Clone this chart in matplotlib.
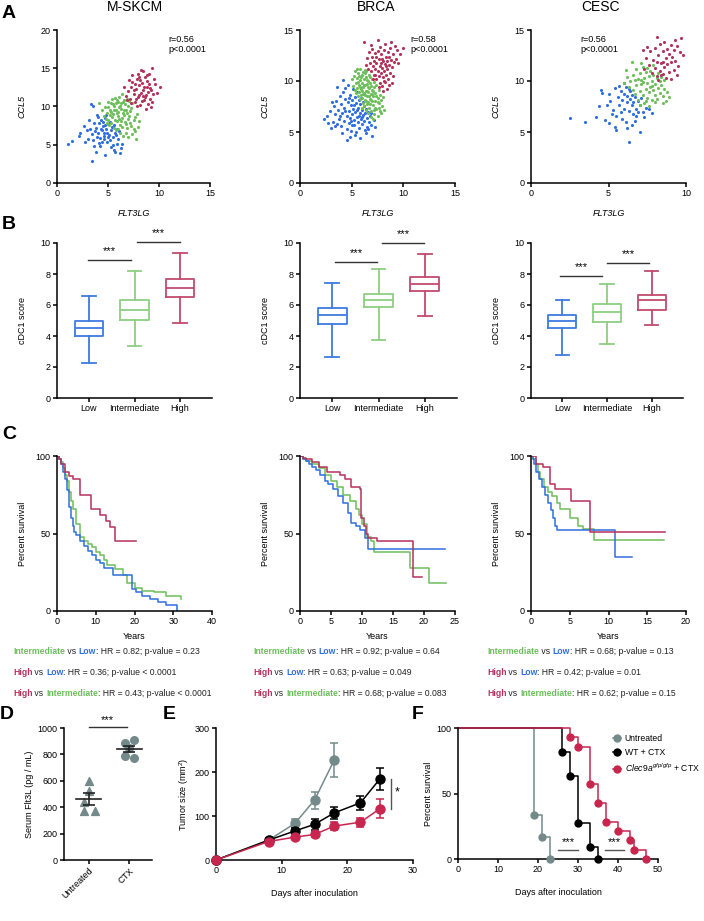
import numpy as np
import matplotlib
matplotlib.use('Agg')
import matplotlib.pyplot as plt
from matplotlib.lines import Line2D

plt.rcParams['font.family'] = ['Liberation Sans', 'DejaVu Sans']
plt.rcParams['mathtext.fontset'] = 'custom'
plt.rcParams['mathtext.rm'] = 'Liberation Sans'
plt.rcParams['mathtext.it'] = 'Liberation Sans:italic'
plt.rcParams['font.size'] = 6.5

BLUE, GREEN, RED = '#2f6fdf', '#6cbf5a', '#b5325c'
BBLUE, BGREEN, BRED = '#3d7be0', '#8ccf80', '#c24b6e'
GRAY, CRED = '#748a8a', '#c8264f'

cohorts = ['M-SKCM', 'BRCA', 'CESC']
groups = ['Low', 'Intermediate', 'High']

# ---- A: FLT3LG vs CCL5 (x, y)
skcm_low = [(1.1,5.1),(1.5,5.5),(2.3,6.6),(2.2,6.1),(2.7,5.4),(3.0,5.8),(3.1,8.3),(3.4,2.9),(3.3,10.3),(3.5,10.1),
            (3.8,4.1),(3.9,8.9),(4.2,4.8),(4.7,3.6),(5.6,4.3),(5.9,5.1),(6.4,5.1),(5.7,6.6),(3.6,7.9),(3.8,7.2),
            (4.0,6.5),(4.1,7.8),(4.3,8.2),(4.4,6.9),(4.5,7.4),(4.6,6.2),(4.7,8.5),(4.8,7.0),(4.9,6.6),(5.0,7.7),
            (5.1,6.3),(5.2,8.0),(5.3,6.9),(5.4,7.3),(5.5,6.0),(5.6,7.6),(3.7,6.8),(3.9,6.0),(4.2,5.9),(4.4,5.4),
            (4.6,5.7),(4.9,5.3),(5.2,5.6),(5.8,6.3),(6.0,5.8),(3.4,6.4),(3.2,7.0),(3.5,5.6),(4.0,8.6),(4.8,8.9),
            (4.3,7.1),(4.7,7.6),(5.0,6.0),(5.5,5.0),(6.1,6.8),(6.3,4.6),(5.9,7.0),(4.1,5.2),(3.6,4.9),(2.9,6.9),
            (2.6,7.4),(5.3,4.7),(5.7,4.0),(6.2,3.9),(4.5,8.0),(4.6,6.6)]
skcm_mid = [(4.1,10.5),(7.7,5.8),(4.9,9.2),(5.0,8.2),(5.2,9.6),(5.3,10.4),(5.4,8.6),(5.5,9.0),(5.6,10.0),(5.7,8.3),
            (5.8,9.5),(5.9,10.8),(6.0,8.8),(6.1,9.9),(6.2,7.6),(6.3,10.4),(6.4,8.5),(6.5,9.2),(6.6,10.9),(6.7,8.0),
            (6.8,9.6),(6.9,7.2),(7.0,10.1),(7.1,8.7),(7.2,9.4),(7.3,7.5),(7.4,10.5),(7.5,8.3),(7.6,6.8),(7.8,9.0),
            (5.1,7.6),(5.3,7.9),(5.6,7.2),(5.8,6.9),(6.0,7.0),(6.2,6.5),(6.5,6.2),(6.8,6.6),(7.0,6.0),(7.2,7.9),
            (5.7,11.1),(6.1,11.3),(6.4,11.6),(6.9,11.0),(7.1,10.7),(5.4,11.0),(5.0,10.6),(4.7,9.9),(4.6,8.8),(4.8,8.4),
            (5.9,8.1),(6.3,9.7),(6.6,8.9),(6.7,10.3),(6.2,10.1),(5.5,10.3),(5.2,8.9),(6.0,9.3),(6.9,9.1),(7.3,9.8),
            (7.6,8.6),(7.9,7.3),(8.0,8.1),(6.4,7.3),(5.8,10.4),(5.3,9.3),(6.5,10.6),(7.0,8.4),(6.1,8.4),(5.6,9.6),
            (4.9,7.9),(4.4,9.5),(6.8,7.7),(7.4,6.4),(7.5,7.1),(5.9,9.1),(6.3,8.1),(6.6,9.5),(5.0,9.9),(6.0,10.6)]
skcm_high = [(9.35,15.0),(10.1,12.6),(8.4,14.6),(6.8,11.4),(7.0,12.0),(7.2,11.0),(7.3,12.6),(7.4,13.2),(7.5,11.6),
             (7.6,10.6),(7.7,12.3),(7.8,13.6),(7.9,11.2),(8.0,12.8),(8.1,10.2),(8.2,11.8),(8.3,13.1),(8.4,12.2),
             (8.5,10.9),(8.6,13.8),(8.7,11.5),(8.8,12.5),(8.9,10.3),(9.0,13.0),(9.1,11.0),(9.2,12.1),(9.3,10.6),
             (9.4,11.6),(9.6,12.9),(9.8,11.8),(7.1,13.4),(7.4,14.1),(7.9,14.2),(8.2,14.8),(8.8,14.1),(9.0,14.3),
             (7.6,12.9),(8.0,11.5),(8.3,10.7),(8.6,11.2),(8.7,9.7),(9.2,9.9),(8.9,11.9),(7.3,10.4),(7.8,10.0),
             (8.5,12.6),(8.1,13.4),(7.5,12.2),(6.6,12.5),(6.9,10.8),(9.5,13.6),(8.4,11.4),(7.7,11.0),(8.0,13.9),
             (8.8,13.3),(9.1,12.4)]
brca_low = [(2.3,6.3),(3.0,5.4),(3.6,9.4),(4.5,4.2),(7.0,4.6),(6.5,5.5),(5.8,4.4),(2.6,6.6),(2.9,7.1),(3.2,6.0),
            (3.3,7.5),(3.4,6.8),(3.5,8.0),(3.7,7.2),(3.8,6.3),(3.9,8.5),(4.0,5.6),(4.0,7.7),(4.1,6.9),(4.2,8.9),
            (4.3,6.1),(4.3,7.4),(4.4,8.2),(4.5,5.3),(4.5,6.6),(4.6,7.9),(4.6,9.6),(4.7,5.9),(4.7,7.1),(4.8,8.6),
            (4.8,6.4),(4.9,7.6),(4.9,5.1),(5.0,8.1),(5.0,6.8),(5.1,9.2),(5.1,7.3),(5.2,5.7),(5.2,6.2),(5.3,8.4),
            (5.3,7.0),(5.4,7.8),(5.4,5.0),(5.5,6.5),(5.5,8.9),(5.6,7.4),(5.6,6.0),(5.7,8.1),(5.7,5.4),(5.8,6.9),
            (5.8,7.7),(5.9,6.3),(5.9,8.3),(6.0,7.2),(6.0,5.8),(6.1,6.7),(6.1,7.9),(6.2,6.1),(6.2,7.5),(6.3,6.9),
            (6.3,5.2),(6.4,7.3),(6.5,6.4),(6.6,7.0),(6.7,6.0),(6.8,6.6),(6.9,5.7),(7.2,6.2),(4.2,10.1),(4.4,9.3),
            (3.1,7.9),(3.6,5.8),(4.1,4.9),(4.8,4.5),(5.3,4.7),(6.4,4.9),(5.0,5.7),(4.4,7.1),(3.9,6.6),(5.7,6.6),
            (5.2,7.6),(4.7,8.3),(5.5,7.2),(6.0,6.5),(4.9,6.1),(6.6,5.3),(3.4,5.6),(2.7,5.9),(6.9,6.9),(7.3,5.5)]
brca_mid = [(5.2,10.5),(5.3,11.0),(5.4,9.8),(5.5,10.3),(5.5,9.3),(5.6,10.8),(5.7,9.6),(5.7,8.9),(5.8,10.1),(5.8,11.2),
            (5.9,9.2),(5.9,8.6),(6.0,10.6),(6.0,9.8),(6.0,8.3),(6.1,9.4),(6.1,10.9),(6.2,8.8),(6.2,10.2),(6.3,9.6),
            (6.3,8.1),(6.3,11.1),(6.4,9.0),(6.4,10.4),(6.5,8.5),(6.5,9.7),(6.5,7.7),(6.6,10.0),(6.6,8.9),(6.7,9.3),
            (6.7,7.4),(6.7,10.6),(6.8,8.2),(6.8,9.8),(6.9,8.7),(6.9,7.1),(7.0,9.1),(7.0,8.0),(7.0,10.2),(7.1,7.6),
            (7.1,8.5),(7.2,9.4),(7.2,6.8),(7.3,8.0),(7.3,8.8),(7.4,7.3),(7.4,9.6),(7.5,8.3),(7.5,6.6),(7.6,7.8),
            (7.7,8.6),(7.7,7.1),(7.8,8.1),(7.9,7.5),(8.0,8.4),(8.1,7.2),(7.6,9.1),(6.4,7.2),(6.1,7.8),(5.6,8.5),
            (5.4,8.8),(5.1,9.5),(5.3,9.1),(5.0,10.2),(5.8,8.2),(6.2,7.5),(6.9,6.5),(7.1,6.3),(6.6,6.9),(7.8,6.9),
            (5.5,11.2),(6.8,10.4),(6.4,11.0),(7.2,9.9),(7.3,7.4),(6.0,9.0),(6.3,8.6),(6.6,9.4),(6.9,9.5),(5.9,10.4),
            (6.2,9.6),(6.5,10.1),(6.7,8.5),(7.0,8.7),(5.7,10.5),(6.1,8.7),(6.4,8.0),(6.8,7.7),(7.4,8.5),(7.6,7.4),
            (5.6,9.9),(6.0,7.4),(6.5,9.0),(7.1,9.0),(6.3,10.8),(5.8,9.4),(6.6,7.9),(7.2,7.2),(6.9,8.1),(7.5,7.9)]
brca_high = [(6.2,13.8),(7.5,14.0),(10.0,13.2),(6.4,11.6),(6.5,12.3),(6.6,11.2),(6.7,12.8),(6.8,11.8),(6.9,11.0),
             (7.0,12.4),(7.0,13.1),(7.1,11.5),(7.2,10.6),(7.2,12.0),(7.3,11.2),(7.3,12.7),(7.4,10.2),(7.4,11.8),
             (7.5,12.9),(7.5,11.0),(7.6,10.5),(7.6,12.2),(7.7,11.5),(7.7,9.8),(7.8,12.6),(7.8,10.8),(7.9,11.3),
             (7.9,9.5),(8.0,12.0),(8.0,10.4),(8.1,11.0),(8.1,13.0),(8.2,9.9),(8.2,11.7),(8.3,12.4),(8.3,10.6),
             (8.4,11.2),(8.4,9.2),(8.5,12.8),(8.5,10.2),(8.6,11.6),(8.7,10.8),(8.7,13.2),(8.8,12.1),(8.9,11.4),
             (9.0,10.5),(9.0,12.6),(9.1,11.9),(9.2,13.4),(9.3,12.2),(9.5,11.8),(9.4,13.0),(8.6,9.6),(8.2,13.6),
             (7.7,13.3),(6.9,13.5),(7.1,10.2),(7.6,9.4),(8.0,9.0),(8.9,9.8),(9.7,12.6),(8.8,13.8),(8.4,12.0),
             (7.9,12.2),(7.4,12.4),(8.1,10.0),(8.6,12.4),(7.3,10.6),(8.3,11.5),(7.8,11.8)]
cesc_low = [(2.5,6.4),(3.5,6.0),(4.2,6.5),(4.8,6.2),(4.5,9.1),(5.0,8.7),(4.4,7.5),(5.1,8.0),(5.4,9.3),(5.4,5.5),
            (5.5,5.2),(6.3,4.0),(7.0,5.0),(6.7,6.1),(7.3,6.5),(7.8,6.9),(7.6,7.3),(5.6,8.4),(5.7,7.6),(5.8,9.0),
            (5.9,8.1),(6.0,7.3),(6.0,8.7),(6.1,9.4),(6.2,7.9),(6.2,8.5),(6.3,7.1),(6.4,8.2),(6.4,9.0),(6.5,7.6),
            (6.5,8.6),(6.6,7.9),(6.6,6.8),(6.7,8.4),(6.8,7.3),(6.9,8.0),(7.0,7.6),(7.1,8.3),(7.2,7.0),(5.3,7.2),
            (5.5,6.6),(5.9,6.3),(6.1,6.0),(6.8,6.6),(5.2,6.8),(5.7,9.5),(6.0,9.8),(6.3,9.2),(6.9,7.0),(7.4,7.4),
            (5.8,7.0),(6.5,5.7),(4.9,7.6),(4.6,8.8),(6.2,5.4),(5.0,5.9)]
cesc_mid = [(6.1,11.1),(6.5,11.9),(8.5,7.8),(6.2,10.4),(6.4,10.0),(6.6,10.6),(6.8,9.6),(6.8,11.2),(6.9,10.2),(7.0,9.0),
            (7.0,10.8),(7.1,9.7),(7.2,11.4),(7.2,8.6),(7.3,10.3),(7.4,9.2),(7.4,10.9),(7.5,8.3),(7.5,9.8),(7.6,10.5),
            (7.6,8.9),(7.7,9.4),(7.7,11.0),(7.8,8.1),(7.8,10.0),(7.9,9.1),(7.9,10.6),(8.0,8.6),(8.0,9.7),(8.1,10.3),
            (8.1,8.2),(8.2,9.3),(8.3,10.0),(8.3,8.8),(8.4,9.6),(8.5,8.5),(8.6,9.2),(8.7,8.0),(8.8,8.9),(6.7,8.7),
            (6.9,8.1),(7.3,7.8),(7.1,11.8),(6.3,9.4),(6.6,9.1),(7.5,11.3),(8.2,10.8),(7.0,7.6),(7.6,7.5),(8.0,7.9),
            (8.9,8.4),(7.2,9.9),(7.8,9.5),(7.4,8.0),(6.7,10.1),(8.4,10.4),(7.9,11.6),(6.0,9.8),(7.1,10.1),(8.6,10.1)]
cesc_high = [(8.1,14.3),(9.7,14.2),(9.8,12.5),(9.3,14.0),(7.3,11.2),(7.4,12.3),(7.6,11.6),(7.7,12.9),(7.8,10.8),
             (7.9,12.1),(8.0,11.3),(8.0,13.2),(8.1,10.5),(8.2,12.5),(8.3,11.0),(8.3,13.6),(8.4,11.8),(8.5,10.7),
             (8.5,12.9),(8.6,11.4),(8.7,12.3),(8.7,10.3),(8.8,13.1),(8.8,11.7),(8.9,12.6),(8.9,10.9),(9.0,11.9),
             (9.0,13.5),(9.1,12.4),(9.2,11.1),(9.2,13.0),(9.3,12.0),(9.4,10.6),(9.5,11.5),(9.6,12.8),(8.2,10.1),
             (8.6,13.8),(7.5,13.3),(8.4,10.6),(9.0,10.2),(8.1,11.9),(7.2,13.0),(8.5,11.9),(9.4,13.4)]
scatter_sets = [(skcm_low, skcm_mid, skcm_high), (brca_low, brca_mid, brca_high), (cesc_low, cesc_mid, cesc_high)]
corr_text = ['r=0.56\np<0.0001', 'r=0.58\np<0.0001', 'r=0.56\np<0.0001']

# ---- B: cDC1 score box plots (whislo, q1, median, q3, whishi)
box_skcm = [(2.28, 4.0, 4.52, 4.99, 6.56), (3.33, 5.05, 5.7, 6.3, 8.2), (4.86, 6.54, 7.1, 7.7, 9.33)]
box_brca = [(2.62, 4.8, 5.37, 5.78, 7.44), (3.72, 5.87, 6.32, 6.7, 8.3), (5.29, 6.92, 7.35, 7.78, 9.27)]
box_cesc = [(2.75, 4.52, 4.95, 5.33, 6.3), (3.48, 4.92, 5.53, 6.04, 7.33), (4.69, 5.68, 6.3, 6.67, 8.19)]
box_sets = [box_skcm, box_brca, box_cesc]

# ---- C: Kaplan-Meier curves (years, percent survival)
km_skcm = {
    'Low': ([0,0.5,1.0,1.5,2.0,2.5,3.0,3.5,4.0,4.5,5.0,6.0,7.0,8.0,9.0,10.0,11.0,12.0,14.5,19.3,20.5,22,24,26,28,30,31],
            [100,98,95,90,85,78,67,60,55,51,49,45,42,39,36,33,31,28,23,14,12,10,8,6,4,4,0]),
    'Intermediate': ([0,0.5,1.0,1.5,2.0,2.5,3.0,3.5,4.0,5.0,6.0,7.0,8.0,9.0,10.0,11.0,12.0,13.0,15.0,17.0,18.0,20.0,22.0,25.0,28.0,32.0],
                     [100,98,96,92,88,84,77,71,66,56,48,45,43,41,38,36,33,30,27,23,18,15,13,12,10,8]),
    'High': ([0,0.5,1.0,2.0,3.0,4.0,5.9,8.8,11.1,12.6,13.7,14.9,20.5],
             [100,98,95,90,87,85,75,66,62,58,54,45,45]),
}
km_brca = {
    'Low': ([0,0.5,1,1.5,2,2.5,3.2,4,4.5,5.4,6.2,7,7.8,8.3,9.0,9.7,10.5,11.0,23.4],
            [100,98,97,95,93,91,88,84,82,79,74,70,63,57,55,52,47,40,40]),
    'Intermediate': ([0,0.5,1,2,3,4,5,6,7,8,9,9.5,10,10.8,11.5,12,17.8,20.8,23.5],
                     [100,98,97,95,92,88,84,80,75,71,66,62,56,48,45,38,28,18,18]),
    'High': ([0,0.5,1,2,3,4.3,6.4,7.2,8.3,9.7,9.9,10.3,10.6,11.0,12.4,18.3,19.6],
             [100,99,98,96,93,90,88,85,80,79,60,55,50,47,45,22,22]),
}
km_cesc = {
    'Low': ([0,0.2,0.4,0.7,1.0,1.4,1.8,2.25,2.6,2.8,3.1,3.3,10.9,13.0],
            [100,98,95,90,85,80,75,70,65,60,55,52,35,35]),
    'Intermediate': ([0,0.3,0.6,0.9,1.2,1.7,2.2,2.7,3.3,3.8,5.0,6.0,6.7,8.1,17.2],
                     [100,98,95,90,85,80,77,74,70,66,60,55,53,46,46]),
    'High': ([0,0.7,1.55,2.45,3.1,5.2,7.6,17.3],
             [100,95,93,82,79,71,51,51]),
}
km_sets = [km_skcm, km_brca, km_cesc]
km_xmax = [40, 25, 20]
km_xstep = [10, 5, 5]

hr_lines = [
    [('0.82', '= 0.23'), ('0.36', '< 0.0001'), ('0.43', '< 0.0001')],
    [('0.92', '= 0.64'), ('0.63', '= 0.049'), ('0.68', '= 0.083')],
    [('0.68', '= 0.13'), ('0.42', '= 0.01'), ('0.62', '= 0.15')],
]

# ---- D: serum Flt3L
flt3l_untreated = [600, 525, 440, 370, 375]
flt3l_ctx = [885, 910, 845, 790, 775]

# ---- E: tumor growth (day, mean, sem)
days_untr = [0, 8, 12, 15, 18]
size_untr = [0, 45, 83, 136, 227]
sem_untr = [0, 4, 10, 19, 38]
days_ctx = [0, 8, 12, 15, 18, 22, 25]
size_wt = [0, 45, 66, 81, 107, 130, 185]
sem_wt = [0, 4, 7, 12, 14, 16, 25]
size_clec = [0, 42, 52, 58, 77, 86, 117]
sem_clec = [0, 3, 5, 6, 9, 10, 21]

# ---- F: survival (day, percent)
surv_untr = ([0, 19, 21, 23], [100, 33.3, 16.7, 0])
surv_wt = ([0, 26, 28, 30, 33, 35], [100, 81.8, 63.6, 27.3, 9.1, 0])
surv_clec = ([0, 28, 30, 33, 35, 37, 40, 43, 44, 47], [100, 92.9, 85.7, 57.1, 42.9, 28.6, 21.4, 14.3, 7.1, 0])

W, H = 704, 921
fig = plt.figure(figsize=(W / 100, H / 100), dpi=100)


def px_axes(l, t, r, b):
    return fig.add_axes([l / W, 1 - b / H, (r - l) / W, (b - t) / H])


def style(ax):
    ax.spines['top'].set_visible(False)
    ax.spines['right'].set_visible(False)
    for s in ['left', 'bottom']:
        ax.spines[s].set_linewidth(1.1)
    ax.tick_params(direction='out', length=3, width=1.1, labelsize=6.5, pad=1.5)


def letter(x, y, s):
    fig.text(x / W, 1 - y / H, s, fontsize=14, fontweight='bold', va='top', ha='left')


lefts = [57, 300, 531]
rights = [210, 455, 686]
title_x = [135, 376, 600]

# A
for i in range(3):
    ax = px_axes(lefts[i], 30, rights[i], 183)
    style(ax)
    for pts, c in zip(scatter_sets[i], [BLUE, GREEN, RED]):
        a = np.array(pts)
        ax.scatter(a[:, 0], a[:, 1], s=5, color=c, linewidths=0)
    if i == 0:
        ax.set_xlim(0, 15); ax.set_ylim(0, 20)
        ax.set_xticks([0, 5, 10, 15]); ax.set_yticks([0, 5, 10, 15, 20])
        ax.text(0.73, 0.97, corr_text[i], transform=ax.transAxes, va='top', fontsize=6.5)
    elif i == 1:
        ax.set_xlim(0, 15); ax.set_ylim(0, 15)
        ax.set_xticks([0, 5, 10, 15]); ax.set_yticks([0, 5, 10, 15])
        ax.text(0.71, 0.97, corr_text[i], transform=ax.transAxes, va='top', fontsize=6.5)
    else:
        ax.set_xlim(0, 10); ax.set_ylim(0, 15)
        ax.set_xticks([0, 5, 10]); ax.set_yticks([0, 5, 10, 15])
        ax.text(0.32, 0.97, corr_text[i], transform=ax.transAxes, va='top', fontsize=6.5)
    ax.set_xlabel('FLT3LG', fontstyle='italic', fontsize=6.5, labelpad=8)
    ax.set_ylabel('CCL5', fontstyle='italic', fontsize=6.5, labelpad=10)
    fig.text(title_x[i] / W, 1 - 7 / H, cohorts[i], fontsize=10, ha='center', va='center')

# B
sig_b = [[(0.98, 1.92, 8.88), (2.05, 3.0, 10.06)],
         [(1.05, 1.97, 8.8), (2.08, 2.99, 9.98)],
         [(0.95, 1.88, 7.87), (2.01, 2.95, 8.69)]]
b_rights = [212, 457, 683]
for i in range(3):
    ax = px_axes(lefts[i], 243, b_rights[i], 398)
    style(ax)
    stats = [dict(whislo=v[0], q1=v[1], med=v[2], q3=v[3], whishi=v[4], fliers=[]) for v in box_sets[i]]
    art = ax.bxp(stats, positions=[1, 2, 3], widths=0.62, capwidths=0.3, showfliers=False)
    for j, c in enumerate([BBLUE, BGREEN, BRED]):
        for key in ['boxes', 'medians']:
            art[key][j].set_color(c); art[key][j].set_linewidth(1.3)
        for k in (2 * j, 2 * j + 1):
            art['whiskers'][k].set_color(c); art['whiskers'][k].set_linewidth(1.3)
            art['caps'][k].set_color(c); art['caps'][k].set_linewidth(1.3)
    for x1, x2, y in sig_b[i]:
        ax.plot([x1, x2], [y, y], color='#333333', lw=1.0, clip_on=False)
        ax.text((x1 + x2) / 2, y + 0.25, '***', ha='center', va='bottom', fontsize=8)
    ax.set_xlim(0.3, 3.7); ax.set_ylim(0, 10)
    ax.set_xticks([1, 2, 3]); ax.set_xticklabels(groups)
    ax.set_yticks([0, 2, 4, 6, 8, 10])
    ax.set_ylabel('cDC1 score', fontsize=6.5, labelpad=10)

# C
c_rights = [212, 455, 686]
for i in range(3):
    ax = px_axes(lefts[i], 456, c_rights[i], 611)
    style(ax)
    for g, c in zip(['Intermediate', 'Low', 'High'], [GREEN, BLUE, RED]):
        t, s = km_sets[i][g]
        ax.step(t, s, where='post', color=c, lw=1.1)
    ax.set_xlim(0, km_xmax[i]); ax.set_ylim(0, 100)
    ax.set_xticks(np.arange(0, km_xmax[i] + 1, km_xstep[i]))
    ax.set_yticks([0, 50, 100])
    ax.set_xlabel('Years', fontsize=6.5, labelpad=4)
    ax.set_ylabel('Percent survival', fontsize=6.5, labelpad=6)

    text_x = [13, 253, 487][i]
    for row, (hr, pv) in enumerate(hr_lines[i]):
        if row == 0:
            parts = [('Intermediate', GREEN), (' vs ', '#222222'), ('Low', BLUE)]
        elif row == 1:
            parts = [('High', RED), (' vs ', '#222222'), ('Low', BLUE)]
        else:
            parts = [('High', RED), (' vs ', '#222222'), ('Intermediate', GREEN)]
        parts.append((': HR = %s; p-value %s' % (hr, pv), '#222222'))
        y = 1 - [651, 672, 693][row] / H
        t = ax.text(text_x / W, y, parts[0][0], color=parts[0][1], transform=fig.transFigure,
                    fontsize=6.2, va='center', fontweight='bold')
        for s, c in parts[1:]:
            t = ax.annotate(s, xy=(1, 0), xycoords=t, va='bottom', ha='left', color=c, fontsize=6.2,
                            fontweight='bold' if c != '#222222' else 'normal', annotation_clip=False)

# D
ax = px_axes(64, 728, 152, 860)
style(ax)
ax.scatter(np.array([0, 0.02, -0.12, -0.12, 0.15]), flt3l_untreated, marker='^', s=32, color=GRAY, zorder=3)
ax.scatter(np.array([0.9, 1.1, 1.0, 0.9, 1.1]), flt3l_ctx, marker='o', s=30, color=GRAY, zorder=3)
ax.set_xticks([0, 1])
for k, vals in enumerate([flt3l_untreated, flt3l_ctx]):
    m = np.mean(vals)
    se = np.std(vals, ddof=1) / np.sqrt(len(vals))
    ax.plot([k - 0.3, k + 0.3], [m, m], color='#222222', lw=1.2, zorder=4)
    ax.errorbar([k], [m], yerr=[se], color='#222222', capsize=4, lw=1.2, capthick=1.2, zorder=4)
ax.plot([0, 0.95], [1005, 1005], color='#333333', lw=1.0, clip_on=False)
ax.text(0.47, 1020, '***', ha='center', va='bottom', fontsize=8)
ax.set_xlim(-0.6, 1.55); ax.set_ylim(0, 1000)
ax.set_yticks(np.arange(0, 1001, 200))
ax.set_xticklabels(['Untreated', 'CTX'], rotation=45, ha='right', rotation_mode='anchor')
ax.set_ylabel('Serum Flt3L (pg / mL)', fontsize=6.5, labelpad=3)

# E
ax = px_axes(216, 728, 413, 860)
style(ax)
ax.errorbar(days_untr, size_untr, yerr=sem_untr, color=GRAY, marker='o', ms=6.5, lw=1.1, capsize=3,
            capthick=1.1, clip_on=False, zorder=3)
ax.errorbar(days_ctx, size_wt, yerr=sem_wt, color='black', marker='o', ms=6.5, lw=1.1, capsize=3,
            capthick=1.1, clip_on=False, zorder=4)
ax.errorbar(days_ctx, size_clec, yerr=sem_clec, color=CRED, marker='o', ms=6.5, lw=1.1, capsize=3,
            capthick=1.1, clip_on=False, zorder=5)
ax.plot([26.6, 26.6], [117, 185], color='#555555', lw=1.0)
ax.text(27.6, 140, '*', fontsize=9, ha='center', va='bottom')
ax.set_xlim(0, 30); ax.set_ylim(0, 300)
ax.set_xticks([0, 10, 20, 30]); ax.set_yticks([0, 100, 200, 300])
ax.set_xlabel('Days after inoculation', fontsize=6.5, labelpad=10)
ax.set_ylabel('Tumor size (mm$^2$)', fontsize=6.5, labelpad=3)

# F
ax = px_axes(458, 728, 658, 859)
style(ax)
for (t, s), c in zip([surv_untr, surv_wt, surv_clec], [GRAY, 'black', CRED]):
    ax.step(t, s, where='post', color=c, lw=1.1, clip_on=False)
    ax.plot(t[1:], s[1:], 'o', color=c, ms=5, clip_on=False, zorder=4)
ax.plot([25, 30], [7, 7], color='#555555', lw=1.0)
ax.text(27.5, 9, '***', ha='center', va='bottom', fontsize=8)
ax.plot([36.8, 41.6], [7, 7], color='#555555', lw=1.0)
ax.text(39.2, 9, '***', ha='center', va='bottom', fontsize=8)
ax.set_xlim(0, 50); ax.set_ylim(0, 100)
ax.set_xticks(np.arange(0, 51, 10)); ax.set_yticks([0, 50, 100])
ax.set_xlabel('Days after inoculation', fontsize=6.5, labelpad=10)
ax.set_ylabel('Percent survival', fontsize=6.5, labelpad=3)
handles = [Line2D([], [], color=c, marker='o', ms=5, lw=1.1) for c in [GRAY, 'black', CRED]]
ax.legend(handles, ['Untreated', 'WT + CTX', r'$\mathit{Clec9a}^{\mathit{gfp/gfp}}$ + CTX'],
          loc='upper left', bbox_to_anchor=(0.76, 0.98), frameon=False, fontsize=6.2,
          handlelength=0.9, handletextpad=0.4, labelspacing=0.55, borderaxespad=0)

letter(2, 5, 'A')
letter(2, 216, 'B')
letter(2, 426, 'C')
letter(0, 706, 'D')
letter(163, 706, 'E')
letter(412, 706, 'F')

fig.savefig('out.png', dpi=100)
